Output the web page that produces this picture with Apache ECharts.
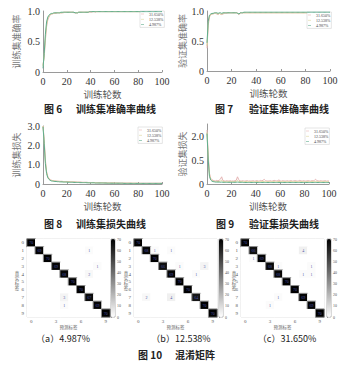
<!DOCTYPE html>
<html><head><meta charset="utf-8">
<script src="https://cdn.jsdelivr.net/npm/echarts@6/dist/echarts.min.js"></script>
<style>html,body{margin:0;padding:0;background:#fff}#c{width:363px;height:368px}</style>
</head><body><div id="c"></div>
<script>
const epochs = [0,1,2,3,4,5,6,7,8,9,10,11,12,13,14,15,16,17,18,19,20,21,22,23,24,25,26,27,28,29,30,31,32,33,34,35,36,37,38,39,40,41,42,43,44,45,46,47,48,49,50,51,52,53,54,55,56,57,58,59,60,61,62,63,64,65,66,67,68,69,70,71,72,73,74,75,76,77,78,79,80,81,82,83,84,85,86,87,88,89,90,91,92,93,94,95,96,97,98,99,100];
const seriesNames = ['31.650%','12.538%','4.987%'];
const xTicks = [0,20,40,60,80,100];

// Fig 6: training accuracy
const trainAccPink = [0.12,0.24,0.52,0.74,0.85,0.90,0.93,0.95,0.95,0.96,
0.96,0.96,0.97,0.97,0.97,0.97,0.97,0.97,0.98,0.98,
0.98,0.98,0.98,0.98,0.98,0.98,0.97,0.97,0.97,0.97,
0.98,0.98,0.98,0.98,0.98,0.98,0.98,0.98,0.98,0.98,
0.98,0.98,0.99,0.99,0.98,0.99,0.99,0.99,0.99,0.99,
0.99,0.99,0.99,0.99,0.99,0.99,0.99,0.99,0.99,0.99,
0.99,0.99,0.99,0.99,0.99,0.99,0.99,0.99,0.99,0.99,
0.99,0.99,0.99,0.99,0.99,0.99,0.99,0.99,0.99,0.99,
0.99,0.99,0.99,0.99,0.99,0.99,0.99,0.99,0.99,0.99,
0.99,0.99,0.99,0.99,0.99,0.99,0.99,0.99,0.99,0.99,0.99];
const trainAccYellow = [0.10,0.27,0.57,0.78,0.88,0.92,0.94,0.95,0.96,0.96,
0.97,0.97,0.97,0.97,0.97,0.97,0.97,0.98,0.98,0.98,
0.98,0.98,0.98,0.98,0.98,0.98,0.98,0.97,0.97,0.97,
0.98,0.98,0.98,0.98,0.98,0.98,0.98,0.98,0.98,0.99,
0.99,0.99,0.99,0.99,0.99,0.99,0.99,0.99,0.99,0.99,
0.99,0.99,0.99,0.99,0.99,0.99,0.99,0.99,0.99,0.99,
0.99,0.99,0.99,0.99,0.99,0.99,0.99,0.99,0.99,0.99,
0.99,0.99,0.99,0.99,0.99,0.99,0.99,0.99,0.99,0.99,
0.99,0.99,0.99,0.99,0.99,0.99,0.99,0.99,0.99,0.99,
0.99,0.99,0.99,0.99,0.99,0.99,0.99,0.99,0.99,0.99,0.99];
const trainAccGreen = [0.06,0.30,0.62,0.82,0.90,0.93,0.95,0.96,0.96,0.97,
0.97,0.97,0.97,0.97,0.97,0.98,0.98,0.98,0.98,0.98,
0.98,0.98,0.98,0.98,0.98,0.98,0.98,0.97,0.97,0.97,
0.98,0.98,0.98,0.98,0.98,0.98,0.98,0.98,0.98,0.99,
0.99,0.99,0.99,0.99,0.99,0.99,0.99,0.99,0.99,0.99,
0.99,0.99,0.99,0.99,0.99,0.99,0.99,0.99,0.99,0.99,
0.99,0.99,0.99,0.99,0.99,0.99,0.99,0.99,0.99,0.99,
0.99,0.99,0.99,0.99,0.99,0.99,0.99,0.99,0.99,0.99,
0.99,0.99,0.99,0.99,0.99,0.99,0.99,0.99,0.99,0.99,
0.99,0.99,0.99,0.99,0.99,0.99,0.99,0.99,0.99,0.99,0.99];

// Fig 7: validation accuracy
const valAccPink = [0.38,0.76,0.90,0.94,0.95,0.95,0.96,0.96,0.95,0.94,
0.96,0.95,0.94,0.95,0.96,0.96,0.96,0.97,0.97,0.97,
0.97,0.97,0.97,0.97,0.97,0.96,0.94,0.96,0.97,0.97,
0.97,0.97,0.97,0.97,0.97,0.97,0.97,0.97,0.97,0.97,
0.97,0.97,0.97,0.97,0.97,0.97,0.97,0.97,0.97,0.97,
0.97,0.97,0.97,0.97,0.97,0.97,0.97,0.97,0.97,0.97,
0.97,0.97,0.97,0.97,0.97,0.97,0.97,0.97,0.97,0.97,
0.97,0.97,0.97,0.97,0.97,0.97,0.97,0.97,0.97,0.97,
0.97,0.97,0.97,0.97,0.97,0.97,0.97,0.97,0.97,0.97,
0.97,0.97,0.97,0.97,0.97,0.97,0.97,0.97,0.97,0.97,0.97];
const valAccYellow = [0.42,0.80,0.91,0.94,0.95,0.96,0.96,0.97,0.96,0.95,
0.96,0.95,0.95,0.96,0.97,0.97,0.97,0.97,0.97,0.97,
0.97,0.97,0.97,0.97,0.97,0.96,0.95,0.97,0.97,0.97,
0.97,0.97,0.97,0.97,0.97,0.97,0.97,0.97,0.97,0.97,
0.97,0.97,0.97,0.97,0.97,0.97,0.97,0.97,0.97,0.97,
0.97,0.97,0.97,0.97,0.97,0.97,0.97,0.97,0.97,0.97,
0.97,0.97,0.97,0.97,0.97,0.97,0.97,0.97,0.97,0.97,
0.97,0.97,0.97,0.97,0.97,0.97,0.97,0.97,0.97,0.97,
0.97,0.97,0.97,0.97,0.97,0.97,0.97,0.97,0.97,0.97,
0.97,0.97,0.97,0.97,0.97,0.97,0.97,0.97,0.97,0.97,0.97];
const valAccGreen = [0.47,0.83,0.93,0.95,0.96,0.96,0.97,0.97,0.97,0.96,
0.97,0.97,0.96,0.97,0.97,0.97,0.97,0.97,0.97,0.97,
0.97,0.97,0.97,0.97,0.97,0.96,0.95,0.97,0.97,0.97,
0.98,0.98,0.98,0.98,0.98,0.98,0.98,0.98,0.98,0.98,
0.98,0.98,0.98,0.98,0.98,0.98,0.98,0.98,0.98,0.98,
0.98,0.98,0.98,0.98,0.98,0.98,0.98,0.98,0.98,0.98,
0.98,0.98,0.98,0.98,0.98,0.98,0.98,0.98,0.98,0.98,
0.98,0.98,0.98,0.98,0.98,0.98,0.98,0.98,0.98,0.98,
0.98,0.98,0.98,0.98,0.98,0.98,0.98,0.98,0.98,0.98,
0.98,0.98,0.98,0.98,0.98,0.98,0.98,0.98,0.98,0.98,0.98];

// Fig 8: training loss
const trainLossPink = [3.00,2.30,1.25,0.65,0.40,0.29,0.23,0.20,0.18,0.17,
0.16,0.16,0.15,0.15,0.14,0.14,0.14,0.13,0.13,0.13,
0.13,0.12,0.13,0.12,0.12,0.11,0.12,0.11,0.11,0.10,
0.10,0.10,0.10,0.09,0.09,0.09,0.09,0.09,0.08,0.08,
0.08,0.08,0.08,0.08,0.07,0.07,0.07,0.07,0.07,0.07,
0.07,0.06,0.06,0.06,0.06,0.06,0.06,0.06,0.06,0.06,
0.06,0.05,0.05,0.05,0.05,0.05,0.05,0.05,0.05,0.05,
0.05,0.05,0.05,0.05,0.05,0.04,0.04,0.04,0.04,0.04,
0.04,0.04,0.04,0.04,0.04,0.04,0.04,0.04,0.04,0.04,
0.04,0.04,0.04,0.04,0.04,0.04,0.04,0.04,0.04,0.04,0.04];
const trainLossYellow = [3.00,2.20,1.15,0.60,0.36,0.26,0.21,0.18,0.17,0.16,
0.15,0.14,0.14,0.13,0.13,0.12,0.12,0.12,0.11,0.11,
0.11,0.11,0.11,0.10,0.10,0.10,0.10,0.10,0.09,0.09,
0.09,0.09,0.08,0.08,0.08,0.08,0.08,0.08,0.07,0.07,
0.07,0.07,0.07,0.07,0.06,0.06,0.06,0.06,0.06,0.06,
0.06,0.06,0.05,0.05,0.05,0.05,0.05,0.05,0.05,0.05,
0.05,0.05,0.05,0.04,0.04,0.04,0.04,0.04,0.04,0.04,
0.04,0.04,0.04,0.04,0.04,0.04,0.04,0.04,0.04,0.04,
0.03,0.03,0.03,0.03,0.03,0.03,0.03,0.03,0.03,0.03,
0.03,0.03,0.03,0.03,0.03,0.03,0.03,0.03,0.03,0.03,0.03];
const trainLossGreen = [2.95,2.10,1.05,0.55,0.33,0.24,0.19,0.16,0.15,0.14,
0.13,0.13,0.12,0.12,0.11,0.11,0.11,0.10,0.10,0.10,
0.10,0.09,0.09,0.09,0.09,0.09,0.08,0.08,0.08,0.08,
0.08,0.07,0.07,0.07,0.07,0.07,0.07,0.06,0.06,0.06,
0.06,0.06,0.06,0.06,0.05,0.05,0.05,0.05,0.05,0.05,
0.05,0.05,0.05,0.05,0.04,0.04,0.04,0.04,0.04,0.04,
0.04,0.04,0.04,0.04,0.04,0.04,0.04,0.04,0.03,0.03,
0.03,0.03,0.03,0.03,0.03,0.03,0.03,0.03,0.03,0.03,
0.03,0.03,0.03,0.03,0.03,0.03,0.03,0.03,0.03,0.03,
0.03,0.03,0.03,0.03,0.03,0.03,0.03,0.03,0.03,0.03,0.03];

// Fig 9: validation loss (values in the printed axis scale)
const valLossTickLabels = ['0','0.5','2.0'];
const valLossPink = [2.25,1.20,0.45,0.24,0.18,0.15,0.14,0.13,0.15,0.13,
0.16,0.20,0.30,0.15,0.13,0.12,0.14,0.13,0.12,0.14,
0.12,0.13,0.12,0.14,0.16,0.30,0.18,0.13,0.12,0.14,
0.13,0.12,0.13,0.14,0.12,0.13,0.12,0.13,0.14,0.12,
0.13,0.14,0.12,0.13,0.15,0.13,0.16,0.19,0.14,0.13,
0.12,0.13,0.14,0.12,0.13,0.15,0.14,0.13,0.14,0.17,
0.13,0.12,0.14,0.13,0.12,0.13,0.14,0.12,0.13,0.14,
0.12,0.13,0.14,0.13,0.12,0.13,0.15,0.13,0.12,0.14,
0.13,0.12,0.13,0.14,0.13,0.12,0.14,0.13,0.15,0.20,
0.14,0.13,0.12,0.14,0.13,0.12,0.13,0.14,0.12,0.13,0.12];
const valLossYellow = [2.15,1.10,0.38,0.20,0.14,0.12,0.11,0.10,0.11,0.10,
0.11,0.12,0.16,0.10,0.10,0.09,0.10,0.09,0.09,0.10,
0.09,0.10,0.09,0.10,0.11,0.15,0.11,0.10,0.09,0.10,
0.09,0.09,0.10,0.09,0.09,0.10,0.09,0.09,0.10,0.09,
0.09,0.10,0.09,0.09,0.10,0.09,0.10,0.11,0.09,0.09,
0.09,0.09,0.10,0.09,0.09,0.10,0.09,0.09,0.10,0.11,
0.09,0.09,0.10,0.09,0.09,0.09,0.10,0.09,0.09,0.10,
0.09,0.09,0.10,0.09,0.09,0.09,0.10,0.09,0.09,0.10,
0.09,0.09,0.09,0.10,0.09,0.09,0.10,0.09,0.10,0.11,
0.09,0.09,0.09,0.10,0.09,0.09,0.09,0.10,0.09,0.09,0.09];
const valLossGreen = [2.10,1.00,0.32,0.17,0.12,0.10,0.09,0.08,0.08,0.08,
0.08,0.07,0.08,0.07,0.07,0.07,0.07,0.07,0.07,0.07,
0.07,0.07,0.07,0.07,0.07,0.08,0.07,0.07,0.07,0.07,
0.06,0.06,0.06,0.06,0.06,0.06,0.06,0.06,0.06,0.06,
0.06,0.06,0.06,0.06,0.06,0.06,0.06,0.06,0.06,0.06,
0.06,0.06,0.06,0.06,0.06,0.06,0.06,0.06,0.06,0.06,
0.06,0.06,0.06,0.06,0.06,0.06,0.06,0.06,0.06,0.06,
0.06,0.06,0.06,0.06,0.06,0.06,0.06,0.06,0.06,0.06,
0.06,0.06,0.06,0.06,0.06,0.06,0.06,0.06,0.06,0.06,
0.06,0.06,0.06,0.06,0.06,0.06,0.06,0.06,0.06,0.06,0.06];

// Fig 10: confusion matrices (rows = true label, cols = predicted label)
const cmLabels = ['0','1','2','3','4','5','6','7','8','9'];
const cbTicks = [0,10,20,30,40,50,60,70];
const cmA = [
[70,0,0,0,0,0,0,0,0,0],
[0,69,0,0,0,0,0,1,0,0],
[0,0,70,0,0,0,0,0,0,0],
[0,0,0,69,0,0,0,0,1,0],
[0,0,0,0,68,0,0,2,0,0],
[0,0,0,0,0,70,0,0,0,0],
[0,0,0,0,0,0,70,0,0,0],
[0,0,0,0,3,0,0,67,0,0],
[0,0,0,0,1,0,0,0,69,0],
[0,0,0,0,0,0,0,0,0,70]];
const cmB = [
[70,0,0,0,0,0,0,0,0,0],
[0,68,1,0,1,0,0,0,0,0],
[0,0,70,0,0,0,0,0,0,0],
[0,0,0,66,0,1,0,0,3,0],
[0,0,0,0,69,0,0,1,0,0],
[0,0,0,0,0,70,0,0,0,0],
[0,0,0,0,0,0,70,0,0,0],
[0,2,0,0,4,0,0,64,0,0],
[0,0,0,0,0,0,0,0,70,0],
[0,0,0,0,0,0,0,0,0,70]];
const cmC = [
[70,0,0,0,0,0,0,0,0,0],
[0,66,0,0,0,0,0,4,0,0],
[0,1,69,0,0,0,0,0,0,0],
[0,0,0,68,1,0,0,0,1,0],
[0,0,0,0,68,0,0,1,1,0],
[0,0,0,0,0,70,0,0,0,0],
[0,0,0,0,0,0,70,0,0,0],
[0,0,0,0,1,0,0,69,0,0],
[0,0,0,1,0,0,0,0,69,0],
[0,0,0,0,0,0,0,0,0,70]];

const SERIF = '"Liberation Serif","DejaVu Serif",serif';
const CJK = '"Noto Sans CJK SC",sans-serif';
const colors = ['#e6b4b4','#ddd49a','#5fad8e'];

const lineCharts = [
  {grid:{left:43,top:11,width:119,height:61}, yName:'训练集准确率', yNameGap:22, ymax:1, yint:0.5,
   fmt:v=>v===0?'0':v.toFixed(1), data:[trainAccPink,trainAccYellow,trainAccGreen], legend:{left:140,top:11}},
  {grid:{left:207,top:11,width:123,height:60}, yName:'验证集准确率', yNameGap:20, ymax:1, yint:0.5,
   fmt:v=>v===0?'0':v.toFixed(1), data:[valAccPink,valAccYellow,valAccGreen], legend:{left:307,top:12}},
  {grid:{left:43,top:126,width:119,height:58}, yName:'训练集损失', yNameGap:22, ymax:3, yint:1,
   fmt:v=>v===0?'0':v.toFixed(1), data:[trainLossPink,trainLossYellow,trainLossGreen], legend:{left:138,top:127}},
  {grid:{left:207,top:124,width:122,height:60}, yName:'验证集损失', yNameGap:20, ymax:2.5, yint:1,
   fmt:v=>valLossTickLabels[Math.round(v)], data:[valLossPink,valLossYellow,valLossGreen], legend:{left:305,top:128}}
];

const grids=[], xAxes=[], yAxes=[], series=[], legends=[], visualMaps=[];
lineCharts.forEach((c,i)=>{
  grids.push(Object.assign({outerBoundsMode:'none', containLabel:false}, c.grid));
  xAxes.push({type:'value', gridIndex:i, min:0, max:100, interval:20,
    axisLine:{show:true,onZero:false,lineStyle:{color:'#9a9a9a',width:1}},
    axisTick:{show:true,inside:true,length:2,lineStyle:{color:'#9a9a9a'}},
    axisLabel:{fontFamily:SERIF,fontSize:10,color:'#333',margin:4},
    splitLine:{show:false},
    name:'训练轮数', nameLocation:'middle', nameGap:17,
    nameTextStyle:{fontFamily:CJK,fontSize:9.5,color:'#555'}});
  yAxes.push({type:'value', gridIndex:i, min:0, max:c.ymax, interval:c.yint,
    axisLine:{show:true,lineStyle:{color:'#9a9a9a',width:1}},
    axisTick:{show:false},
    axisLabel:{fontFamily:SERIF,fontSize:10,color:'#333',margin:3,formatter:c.fmt},
    splitLine:{show:false},
    name:c.yName, nameLocation:'middle', nameGap:c.yNameGap, nameRotate:90,
    nameTextStyle:{fontFamily:CJK,fontSize:9,color:'#777'}});
  c.data.forEach((arr,k)=>{
    series.push({type:'line', name:seriesNames[k], xAxisIndex:i, yAxisIndex:i,
      data:epochs.map((e,j)=>[e,arr[j]]), showSymbol:false, symbol:'none',
      lineStyle:{width:1,color:colors[k]}, itemStyle:{color:colors[k]}, z:2+k});
  });
  legends.push({data:seriesNames, orient:'vertical', left:c.legend.left, top:c.legend.top,
    icon:'rect', itemWidth:3, itemHeight:0.6, itemGap:1.2, padding:[1,1,1,1],
    borderColor:'#c8c8c8', borderWidth:0.5, backgroundColor:'#fff',
    textStyle:{fontFamily:SERIF,fontSize:4,color:'#444',padding:0}, selectedMode:false});
});

const cms = [cmA,cmB,cmC];
const cmGrids = [{left:27},{left:134},{left:241}];
const cbLeft = [111,219,327];
const yNameX = [17,126,234];
cms.forEach((m,k)=>{
  const gi = 4+k;
  grids.push({outerBoundsMode:'none', left:cmGrids[k].left, top:239, width:83, height:78,
    show:true, borderColor:'#c4c4c4', borderWidth:0.6});
  xAxes.push({type:'category', gridIndex:gi, data:cmLabels, position:'bottom',
    axisLine:{show:false}, axisTick:{show:false}, splitArea:{show:false}, splitLine:{show:false},
    axisLabel:{interval:2, fontFamily:SERIF, fontSize:5, color:'#555', margin:2},
    name:'预测标签', nameLocation:'middle', nameGap:8, nameTextStyle:{fontFamily:CJK,fontSize:4.5,color:'#666'}});
  yAxes.push({type:'category', gridIndex:gi, data:cmLabels, inverse:true,
    axisLine:{show:false}, axisTick:{show:false}, splitArea:{show:false}, splitLine:{show:false},
    axisLabel:{fontFamily:SERIF, fontSize:5, color:'#555', margin:3}});
  const data=[];
  m.forEach((row,r)=>row.forEach((v,c)=>{
    const item={value:[c,r,v]};
    if(r===c) item.itemStyle={borderColor:'#8a8a8a',borderWidth:1};
    data.push(item);
  }));
  series.push({type:'heatmap', xAxisIndex:gi, yAxisIndex:gi, data:data,
    label:{show:true, fontSize:4, color:'#4a55a8', fontFamily:SERIF,
      formatter:p=>p.value[2]>0?String(p.value[2]):''},
    emphasis:{disabled:true}});
  visualMaps.push({type:'continuous', seriesIndex:series.length-1, min:0, max:70,
    inRange:{color:['#ffffff','#000000']}, orient:'vertical', left:cbLeft[k], top:239,
    itemWidth:4, itemHeight:78, calculable:false, padding:0, hoverLink:false, show:true});
});
cms.forEach((m,k)=>{
  const gi = 7+k;
  grids.push({outerBoundsMode:'none', left:cbLeft[k], top:239, width:4, height:78,
    show:true, borderColor:'#666', borderWidth:0.5, backgroundColor:'transparent'});
  xAxes.push({type:'value', gridIndex:gi, show:false, min:0, max:1});
  yAxes.push({type:'value', gridIndex:gi, min:cbTicks[0], max:cbTicks[cbTicks.length-1], interval:10, position:'right',
    axisLine:{show:false}, axisTick:{show:true,length:1,lineStyle:{color:'#666',width:0.5}}, splitLine:{show:false},
    axisLabel:{fontFamily:SERIF,fontSize:4,color:'#555',margin:2}});
});

const capFont = 'bold 10px "Noto Sans CJK SC"';
const subFont = '9px "Noto Sans CJK SC"';
function txt(x,y,t,font,align){return {type:'text',x:x,y:y,style:{text:t,font:font,fill:'#222',align:align||'left',verticalAlign:'middle'}};}
const graphics = [
  txt(44,108,'图 6',capFont), txt(76,108,'训练集准确率曲线',capFont),
  txt(215,108,'图 7',capFont), txt(249,108,'验证集准确率曲线',capFont),
  txt(44,223,'图 8',capFont), txt(76,223,'训练集损失曲线',capFont),
  txt(216,223,'图 9',capFont), txt(249,223,'验证集损失曲线',capFont),
  txt(63,338,'（a）4.987%',subFont,'center'),
  txt(181,338,'（b）12.538%',subFont,'center'),
  txt(287,338,'（c）31.650%',subFont,'center'),
  txt(138,354,'图 10',capFont), txt(175,354,'混淆矩阵',capFont)
];
yNameX.forEach(x=>graphics.push({type:'text',x:x,y:280,style:{text:'真\n实\n标\n签',font:'4.5px "Noto Sans CJK SC"',fill:'#666',align:'center',verticalAlign:'middle',lineHeight:5}}));

const chart = echarts.init(document.getElementById('c'), null, {renderer:'svg'});
chart.setOption({
  animation:false, backgroundColor:'#fff',
  grid:grids, xAxis:xAxes, yAxis:yAxes, series:series, legend:legends,
  visualMap:visualMaps, graphic:graphics, tooltip:{show:false}
});
</script></body></html>
